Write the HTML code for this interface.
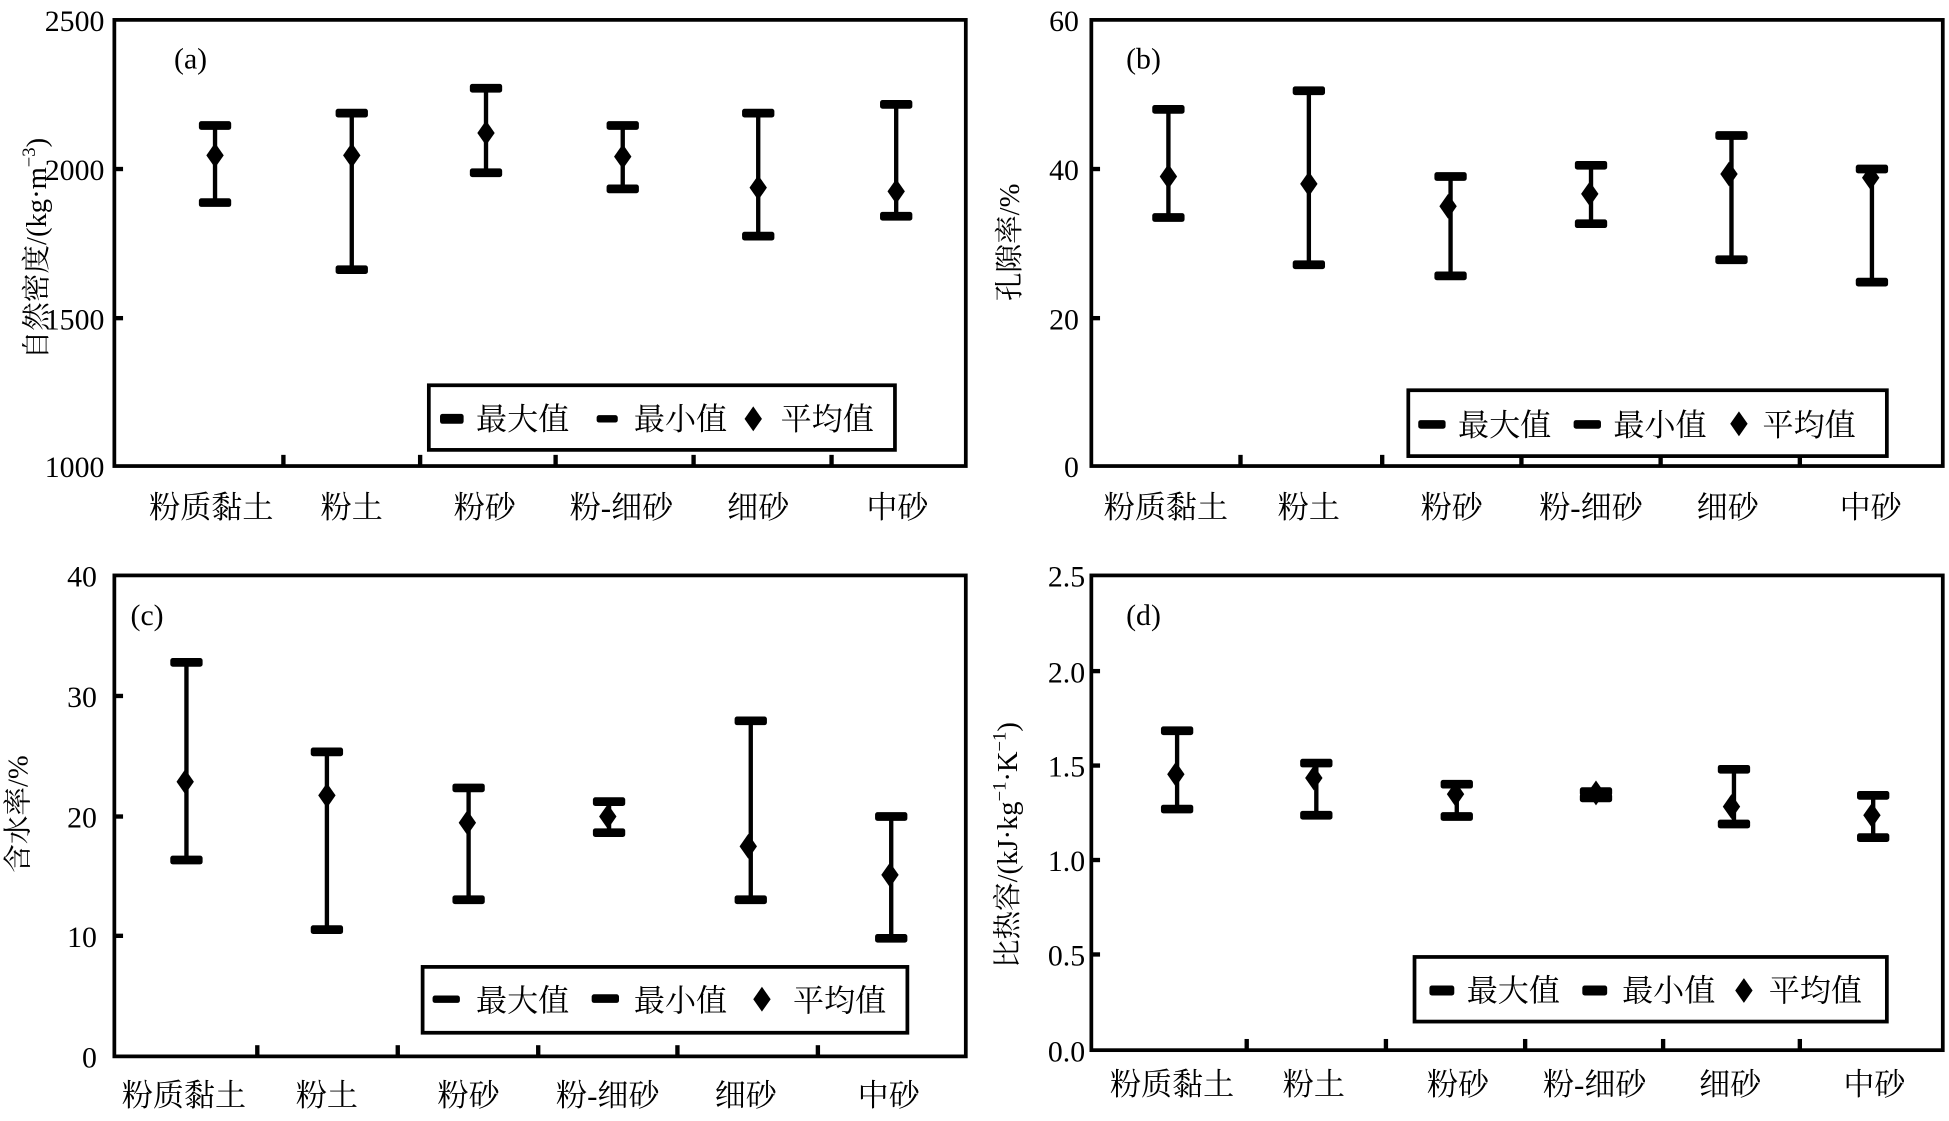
<!DOCTYPE html>
<html><head><meta charset="utf-8"><style>
html,body{margin:0;padding:0;background:#fff;}
svg{display:block;}
text{font-family:"Liberation Serif","Noto Serif CJK SC",serif;fill:#000;}
.t{font-size:24px;}
.yl{font-size:23px;}
.xl{font-size:25px;text-anchor:middle;}
.lg{font-size:25px;}
.ax{fill:none;stroke:#000;stroke-width:3;}
.st{stroke:#000;stroke-width:3.5;}
</style></head><body>
<svg width="1949" height="1121" viewBox="0 0 1568 902" preserveAspectRatio="none" xmlns="http://www.w3.org/2000/svg">
<defs>
<g id="bar"><rect x="-13" y="-3.5" width="26" height="7" rx="2"/></g>
<path id="dm" d="M0,-10 L7,0 L0,10 L-7,0 Z"/>
</defs>

<!-- Panel a -->
<rect class="ax" x="92" y="16" width="685" height="359"/>
<g class="st"><line x1="92" y1="136" x2="99" y2="136"/><line x1="92" y1="256" x2="99" y2="256"/>
<line x1="228" y1="375" x2="228" y2="366"/><line x1="338" y1="375" x2="338" y2="366"/><line x1="447" y1="375" x2="447" y2="366"/><line x1="558" y1="375" x2="558" y2="366"/><line x1="669" y1="375" x2="669" y2="366"/></g>
<g class="t" text-anchor="end"><text x="84" y="25">2500</text><text x="84" y="145">2000</text><text x="84" y="265">1500</text><text x="84" y="384">1000</text></g>
<text x="140" y="55" class="t">(a)</text>
<g class="xl"><text x="170" y="417">粉质黏土</text><text x="283" y="417">粉土</text><text x="390" y="417">粉砂</text><text x="500" y="417">粉-细砂</text><text x="610" y="417">细砂</text><text x="722" y="417">中砂</text></g>
<text transform="translate(37,200) rotate(-90)" text-anchor="middle" class="yl">自然密度/(kg·m<tspan dy="-9" font-size="15">−3</tspan><tspan dy="9">)</tspan></text>
<g>
<line class="st" x1="173" y1="101" x2="173" y2="163"/><use href="#bar" x="173" y="101"/><use href="#bar" x="173" y="163"/><use href="#dm" x="173" y="125"/>
<line class="st" x1="283" y1="91" x2="283" y2="217"/><use href="#bar" x="283" y="91"/><use href="#bar" x="283" y="217"/><use href="#dm" x="283" y="125"/>
<line class="st" x1="391" y1="71" x2="391" y2="139"/><use href="#bar" x="391" y="71"/><use href="#bar" x="391" y="139"/><use href="#dm" x="391" y="107"/>
<line class="st" x1="501" y1="101" x2="501" y2="152"/><use href="#bar" x="501" y="101"/><use href="#bar" x="501" y="152"/><use href="#dm" x="501" y="126"/>
<line class="st" x1="610" y1="91" x2="610" y2="190"/><use href="#bar" x="610" y="91"/><use href="#bar" x="610" y="190"/><use href="#dm" x="610" y="151"/>
<line class="st" x1="721" y1="84" x2="721" y2="174"/><use href="#bar" x="721" y="84"/><use href="#bar" x="721" y="174"/><use href="#dm" x="721" y="154"/>
</g>
<rect class="ax" x="345" y="310" width="375" height="52"/>
<rect x="354" y="333" width="19" height="8" rx="2"/><text x="383" y="346" class="lg">最大值</text>
<rect x="480" y="334" width="17" height="6" rx="2"/><text x="510" y="346" class="lg">最小值</text>
<use href="#dm" x="606" y="337"/><text x="628" y="346" class="lg">平均值</text>

<!-- Panel b -->
<rect class="ax" x="878" y="16" width="685" height="359"/>
<g class="st"><line x1="878" y1="136" x2="885" y2="136"/><line x1="878" y1="256" x2="885" y2="256"/>
<line x1="998" y1="375" x2="998" y2="366"/><line x1="1112" y1="375" x2="1112" y2="366"/><line x1="1224" y1="375" x2="1224" y2="366"/><line x1="1336" y1="375" x2="1336" y2="366"/><line x1="1448" y1="375" x2="1448" y2="366"/></g>
<g class="t" text-anchor="end"><text x="868" y="25">60</text><text x="868" y="145">40</text><text x="868" y="265">20</text><text x="868" y="384">0</text></g>
<text x="906" y="55" class="t">(b)</text>
<g class="xl"><text x="938" y="417">粉质黏土</text><text x="1053" y="417">粉土</text><text x="1168" y="417">粉砂</text><text x="1280" y="417">粉-细砂</text><text x="1390" y="417">细砂</text><text x="1505" y="417">中砂</text></g>
<text transform="translate(820,195) rotate(-90)" text-anchor="middle" class="yl">孔隙率/%</text>
<g>
<line class="st" x1="940" y1="88" x2="940" y2="175"/><use href="#bar" x="940" y="88"/><use href="#bar" x="940" y="175"/><use href="#dm" x="940" y="142"/>
<line class="st" x1="1053" y1="73" x2="1053" y2="213"/><use href="#bar" x="1053" y="73"/><use href="#bar" x="1053" y="213"/><use href="#dm" x="1053" y="148"/>
<line class="st" x1="1167" y1="142" x2="1167" y2="222"/><use href="#bar" x="1167" y="142"/><use href="#bar" x="1167" y="222"/><use href="#dm" x="1165" y="166"/>
<line class="st" x1="1280" y1="133" x2="1280" y2="180"/><use href="#bar" x="1280" y="133"/><use href="#bar" x="1280" y="180"/><use href="#dm" x="1279" y="156"/>
<line class="st" x1="1393" y1="109" x2="1393" y2="209"/><use href="#bar" x="1393" y="109"/><use href="#bar" x="1393" y="209"/><use href="#dm" x="1391" y="140"/>
<line class="st" x1="1506" y1="136" x2="1506" y2="227"/><use href="#bar" x="1506" y="136"/><use href="#bar" x="1506" y="227"/><use href="#dm" x="1505" y="143"/>
</g>
<rect class="ax" x="1133" y="314" width="385" height="53"/>
<rect x="1141" y="338" width="22" height="7" rx="2"/><text x="1173" y="351" class="lg">最大值</text>
<rect x="1266" y="338" width="22" height="7" rx="2"/><text x="1298" y="351" class="lg">最小值</text>
<use href="#dm" x="1399" y="341"/><text x="1418" y="351" class="lg">平均值</text>

<!-- Panel c -->
<rect class="ax" x="92" y="463" width="685" height="387"/>
<g class="st"><line x1="92" y1="560" x2="99" y2="560"/><line x1="92" y1="657" x2="99" y2="657"/><line x1="92" y1="753" x2="99" y2="753"/>
<line x1="207" y1="850" x2="207" y2="841"/><line x1="320" y1="850" x2="320" y2="841"/><line x1="433" y1="850" x2="433" y2="841"/><line x1="545" y1="850" x2="545" y2="841"/><line x1="658" y1="850" x2="658" y2="841"/></g>
<g class="t" text-anchor="end"><text x="78" y="472">40</text><text x="78" y="569">30</text><text x="78" y="666">20</text><text x="78" y="762">10</text><text x="78" y="859">0</text></g>
<text x="105" y="503" class="t">(c)</text>
<g class="xl"><text x="148" y="890">粉质黏土</text><text x="263" y="890">粉土</text><text x="377" y="890">粉砂</text><text x="489" y="890">粉-细砂</text><text x="600" y="890">细砂</text><text x="715" y="890">中砂</text></g>
<text transform="translate(22,655) rotate(-90)" text-anchor="middle" class="yl">含水率/%</text>
<g>
<line class="st" x1="150" y1="533" x2="150" y2="692"/><use href="#bar" x="150" y="533"/><use href="#bar" x="150" y="692"/><use href="#dm" x="149" y="629"/>
<line class="st" x1="263" y1="605" x2="263" y2="748"/><use href="#bar" x="263" y="605"/><use href="#bar" x="263" y="748"/><use href="#dm" x="263" y="640"/>
<line class="st" x1="377" y1="634" x2="377" y2="724"/><use href="#bar" x="377" y="634"/><use href="#bar" x="377" y="724"/><use href="#dm" x="376" y="662"/>
<line class="st" x1="490" y1="645" x2="490" y2="670"/><use href="#bar" x="490" y="645"/><use href="#bar" x="490" y="670"/><use href="#dm" x="489" y="657"/>
<line class="st" x1="604" y1="580" x2="604" y2="724"/><use href="#bar" x="604" y="580"/><use href="#bar" x="604" y="724"/><use href="#dm" x="602" y="681"/>
<line class="st" x1="717" y1="657" x2="717" y2="755"/><use href="#bar" x="717" y="657"/><use href="#bar" x="717" y="755"/><use href="#dm" x="716" y="704"/>
</g>
<rect class="ax" x="340" y="778" width="390" height="53"/>
<rect x="348" y="801" width="22" height="6" rx="2"/><text x="383" y="814" class="lg">最大值</text>
<rect x="476" y="800" width="22" height="7" rx="2"/><text x="510" y="814" class="lg">最小值</text>
<use href="#dm" x="613" y="804"/><text x="638" y="814" class="lg">平均值</text>

<!-- Panel d -->
<rect class="ax" x="878" y="463" width="685" height="382"/>
<g class="st"><line x1="878" y1="540" x2="885" y2="540"/><line x1="878" y1="616" x2="885" y2="616"/><line x1="878" y1="692" x2="885" y2="692"/><line x1="878" y1="768" x2="885" y2="768"/>
<line x1="1003" y1="845" x2="1003" y2="836"/><line x1="1115" y1="845" x2="1115" y2="836"/><line x1="1227" y1="845" x2="1227" y2="836"/><line x1="1338" y1="845" x2="1338" y2="836"/><line x1="1448" y1="845" x2="1448" y2="836"/></g>
<g class="t" text-anchor="end"><text x="873" y="472">2.5</text><text x="873" y="549">2.0</text><text x="873" y="625">1.5</text><text x="873" y="701">1.0</text><text x="873" y="777">0.5</text><text x="873" y="854">0.0</text></g>
<text x="906" y="503" class="t">(d)</text>
<g class="xl"><text x="943" y="881">粉质黏土</text><text x="1057" y="881">粉土</text><text x="1173" y="881">粉砂</text><text x="1283" y="881">粉-细砂</text><text x="1392" y="881">细砂</text><text x="1508" y="881">中砂</text></g>
<text transform="translate(818,680) rotate(-90)" text-anchor="middle" class="yl">比热容/(kJ·kg<tspan dy="-9" font-size="15">−1</tspan><tspan dy="9">·K</tspan><tspan dy="-9" font-size="15">−1</tspan><tspan dy="9">)</tspan></text>
<g>
<line class="st" x1="947" y1="588" x2="947" y2="651"/><use href="#bar" x="947" y="588"/><use href="#bar" x="947" y="651"/><use href="#dm" x="946" y="623"/>
<line class="st" x1="1059" y1="614" x2="1059" y2="656"/><use href="#bar" x="1059" y="614"/><use href="#bar" x="1059" y="656"/><use href="#dm" x="1057" y="626"/>
<line class="st" x1="1172" y1="631" x2="1172" y2="657"/><use href="#bar" x="1172" y="631"/><use href="#bar" x="1172" y="657"/><use href="#dm" x="1171" y="639"/>
<line class="st" x1="1284" y1="637" x2="1284" y2="642"/><use href="#bar" x="1284" y="637"/><use href="#bar" x="1284" y="642"/><use href="#dm" x="1284" y="638"/>
<line class="st" x1="1395" y1="619" x2="1395" y2="663"/><use href="#bar" x="1395" y="619"/><use href="#bar" x="1395" y="663"/><use href="#dm" x="1393" y="649"/>
<line class="st" x1="1507" y1="640" x2="1507" y2="674"/><use href="#bar" x="1507" y="640"/><use href="#bar" x="1507" y="674"/><use href="#dm" x="1506" y="656"/>
</g>
<rect class="ax" x="1138" y="770" width="380" height="52"/>
<rect x="1150" y="793" width="20" height="8" rx="2"/><text x="1180" y="806" class="lg">最大值</text>
<rect x="1273" y="793" width="20" height="8" rx="2"/><text x="1305" y="806" class="lg">最小值</text>
<use href="#dm" x="1403" y="797"/><text x="1423" y="806" class="lg">平均值</text>
</svg>
</body></html>
